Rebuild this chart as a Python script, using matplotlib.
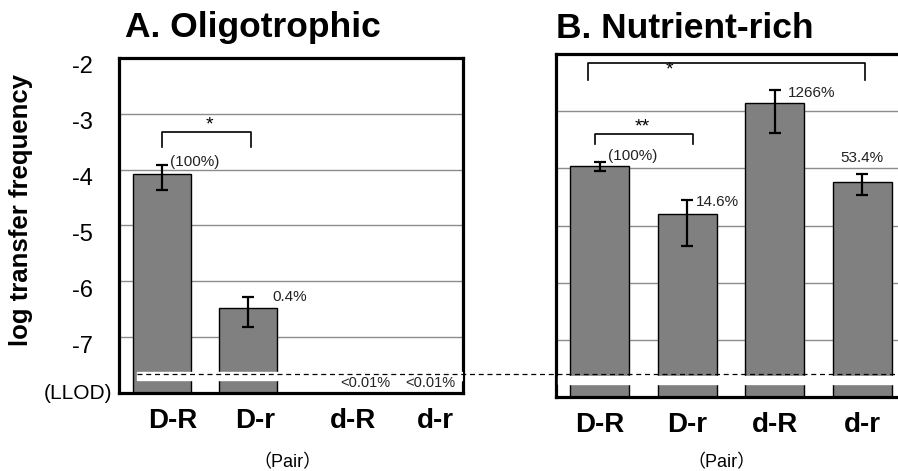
import matplotlib
matplotlib.use('Agg')
import matplotlib.pyplot as plt
import numpy as np
from matplotlib.transforms import ScaledTranslation, blended_transform_factory
from matplotlib.lines import Line2D

plt.rcParams['font.family'] = ['Liberation Sans', 'DejaVu Sans']

# ---------------- data ----------------
pairs = ['D-R', 'D-r', 'd-R', 'd-r']
LLOD = -8.0
LLOD_LINE = -7.66
yticks = [-2, -3, -4, -5, -6, -7]

oligo_mean = [-4.07, -6.47, -8.0, -8.0]
oligo_err_low = [0.30, 0.35, 0.0, 0.0]
oligo_err_high = [0.16, 0.19, 0.0, 0.0]
oligo_pct = ['(100%)', '0.4%', '<0.01%', '<0.01%']

rich_mean = [-3.96, -4.79, -2.86, -4.23]
rich_err_low = [0.09, 0.57, 0.52, 0.24]
rich_err_high = [0.07, 0.23, 0.23, 0.14]
rich_pct = ['(100%)', '14.6%', '1266%', '53.4%']

# ---------------- figure ----------------
fig = plt.figure(figsize=(8.98, 4.71), dpi=100)
ax1 = fig.add_axes([0.1325, 0.1656, 0.383, 0.7113])
ax2 = fig.add_axes([0.619, 0.1571, 0.390, 0.728])

x = np.arange(len(pairs))
BAR_COLOR = '#808080'

def base_style(ax):
    ax.set_xlim(-0.5, 3.5)
    ax.set_ylim(LLOD, -2)
    for t in yticks[1:]:
        ax.axhline(t, color='#8c8c8c', lw=1.0, zorder=0)
    for s in ax.spines.values():
        s.set_linewidth(2.3)
        s.set_color('black')
    ax.set_xticks(x)
    ax.set_xticklabels(pairs, fontsize=20, fontweight='bold')
    ax.tick_params(axis='x', length=0, pad=11)

def bracket(ax, x0, x1, ytop, yleg, label, lx, ly):
    ax.plot([x0, x0, x1, x1], [yleg, ytop, ytop, yleg], color='black', lw=1.2,
            solid_joinstyle='round', zorder=4)
    ax.text(lx, ly, label, ha='center', va='center', fontsize=14, zorder=4)

# ---- Panel A ----
base_style(ax1)
ax1.bar(x, np.array(oligo_mean) - LLOD, bottom=LLOD, width=0.67,
        color=BAR_COLOR, edgecolor='black', lw=1.0, zorder=2)
ax1.errorbar(x[:2], oligo_mean[:2],
             yerr=[oligo_err_low[:2], oligo_err_high[:2]],
             fmt='none', ecolor='black', elinewidth=1.6, capsize=4.5,
             capthick=1.6, zorder=3)
ax1.set_yticks(yticks)
ax1.set_yticklabels([str(t) for t in yticks], fontsize=17)
ax1.tick_params(axis='y', length=0, pad=19)
for lab in ax1.get_yticklabels():
    lab.set_transform(lab.get_transform() + ScaledTranslation(0, -7 / 100, fig.dpi_scale_trans))
btr = blended_transform_factory(ax1.transAxes, ax1.transData)
ax1.text(-0.02, LLOD, '(LLOD)', transform=btr, ha='right', va='center', fontsize=15)
ax1.set_ylabel('log transfer frequency', fontsize=18.5, fontweight='bold')
ax1.yaxis.set_label_coords(-0.25, 0.546)
ax1.set_xlabel('（Pair）', fontsize=13, family=['Liberation Sans', 'Noto Sans CJK JP'])
ax1.xaxis.set_label_coords(0.491, -0.182)
ax1.text(0.017, 1.063, 'A. Oligotrophic', transform=ax1.transAxes, fontsize=25.5,
         fontweight='bold', ha='left', va='baseline')

left_offsets = [11, 7, 19, 15]
for lab, dx in zip(ax1.get_xticklabels(), left_offsets):
    lab.set_transform(lab.get_transform() + ScaledTranslation(dx / 100, 0, fig.dpi_scale_trans))

oligo_text_pos = [(0.09, -3.86, 'left'), (1.28, -6.28, 'left'),
                  (2.36, -7.82, 'center'), (3.12, -7.82, 'center')]
for (tx, ty, ha), s in zip(oligo_text_pos, oligo_pct):
    ax1.text(tx, ty, s, ha=ha, va='center', fontsize=11 if '<' not in s else 10.5,
             color='#222222', zorder=5)
bracket(ax1, 0.0, 1.03, -3.33, -3.6, '*', 0.55, -3.2)
ax1.axhspan(-7.77, -7.63, xmin=0.052, xmax=1.0, color='white', zorder=3.5)

# ---- Panel B ----
base_style(ax2)
ax2.spines['right'].set_visible(False)
ax2.bar(x, np.array(rich_mean) - LLOD, bottom=LLOD, width=0.67,
        color=BAR_COLOR, edgecolor='black', lw=1.0, zorder=2)
ax2.errorbar(x, rich_mean, yerr=[rich_err_low, rich_err_high],
             fmt='none', ecolor='black', elinewidth=1.6, capsize=4.5,
             capthick=1.6, zorder=3)
ax2.set_yticks([])
ax2.set_xlabel('（Pair）', fontsize=13, family=['Liberation Sans', 'Noto Sans CJK JP'])
ax2.xaxis.set_label_coords(0.473, -0.166)
ax2.text(0.0, 1.047, 'B. Nutrient-rich', transform=ax2.transAxes, fontsize=25.5,
         fontweight='bold', ha='left', va='baseline')
rich_text_pos = [(0.09, -3.78, 'left'), (1.1, -4.59, 'left'),
                 (2.15, -2.68, 'left'), (3.0, -3.82, 'center')]
for (tx, ty, ha), s in zip(rich_text_pos, rich_pct):
    ax2.text(tx, ty, s, ha=ha, va='center', fontsize=11, color='#222222', zorder=5)
bracket(ax2, -0.05, 1.07, -3.40, -3.57, '**', 0.49, -3.28)
bracket(ax2, -0.13, 3.03, -2.16, -2.45, '*', 0.8, -2.28)
ax2.axhspan(-7.77, -7.63, xmin=0.005, xmax=1.0, color='white', zorder=3.5)

# ---- LLOD dashed line across figure ----
ftr = blended_transform_factory(fig.transFigure, ax1.transData)
fig.add_artist(Line2D([137 / 898, 1.0], [LLOD_LINE, LLOD_LINE], transform=ftr,
                      color='black', lw=0.9, ls=(0, (4, 3)), zorder=10))

fig.savefig('out.png', dpi=100)
